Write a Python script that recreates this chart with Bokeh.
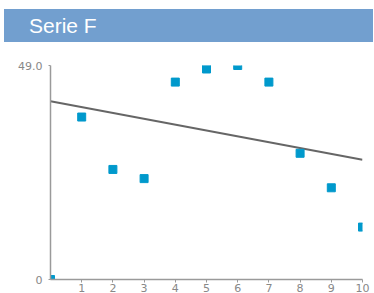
from bokeh.plotting import figure
from bokeh.models import Range1d, FixedTicker, Div
from bokeh.layouts import column
from bokeh.embed import file_html
from bokeh.resources import INLINE

title_text = "Serie F"
x_vals = [0, 1, 2, 3, 4, 5, 6, 7, 8, 9, 10]
y_vals = [0, 37.2, 25.2, 23.1, 45.2, 48.2, 49.0, 45.2, 28.9, 21.0, 12.0]
trend_x = [0, 10]
trend_y = [40.8, 27.4]
x_ticks = [1, 2, 3, 4, 5, 6, 7, 8, 9, 10]
y_ticks = [0, 49]
y_tick_labels = {0: "0", 49: "49.0"}

header = Div(
    text=title_text, width=369, height=33, margin=(9, 0, 0, 4),
    styles={
        "background-color": "#729fcf", "color": "white",
        "font-family": "Liberation Sans, Arial, sans-serif", "font-size": "21px",
        "line-height": "33px", "padding-left": "25px", "box-sizing": "border-box",
        "width": "369px", "height": "33px",
    },
)

p = figure(
    frame_width=312, frame_height=214,
    x_range=Range1d(0, 10), y_range=Range1d(0, 49),
    output_backend="svg", toolbar_location=None,
    min_border_left=50, min_border_top=23, min_border_right=12, min_border_bottom=10,
)
p.outline_line_color = None
p.grid.visible = False
p.background_fill_color = "white"

p.line(trend_x, trend_y, line_color="#666666", line_width=2)
p.scatter(x_vals, y_vals, marker="square", size=8, fill_color="#0099cc", line_color="#0099cc")

for ax in (p.xaxis[0], p.yaxis[0]):
    ax.axis_line_color = "#9a9a9a"
    ax.axis_line_width = 1.5
    ax.major_tick_line_color = "#9a9a9a"
    ax.minor_tick_line_color = None
    ax.major_tick_in = 0
    ax.major_label_text_color = "#888888"
    ax.major_label_text_font = "DejaVu Sans"
    ax.major_label_text_font_size = "11px"

p.xaxis.major_tick_out = 3
p.xaxis.major_label_standoff = 1
p.yaxis.major_tick_out = 2
p.yaxis.major_label_standoff = 6

p.xaxis.ticker = FixedTicker(ticks=x_ticks)
p.yaxis.ticker = FixedTicker(ticks=y_ticks)
p.yaxis.major_label_overrides = y_tick_labels

layout = column(header, p)
open("out.html", "w").write(file_html(layout, INLINE))
